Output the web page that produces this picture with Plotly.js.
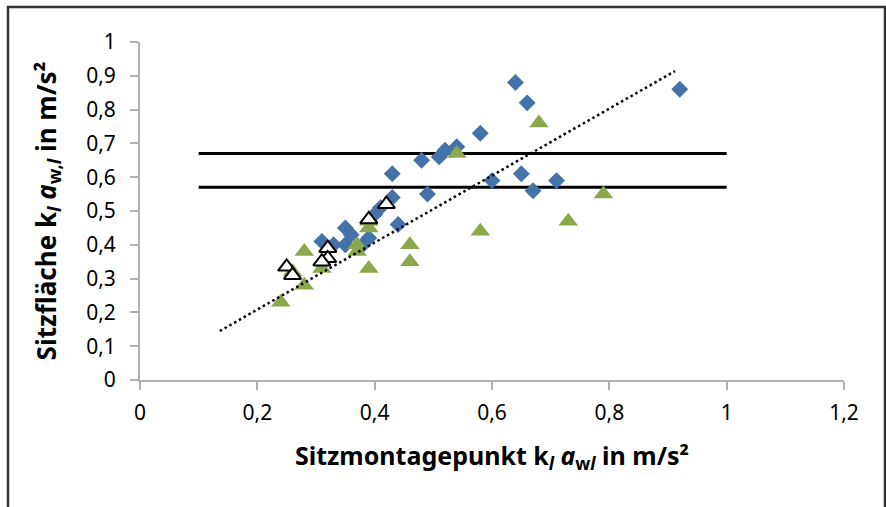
<!DOCTYPE html>
<html>
<head>
<meta charset="utf-8">
<script src="https://cdn.plot.ly/plotly-3.0.1.min.js"></script>
<style>html,body{margin:0;padding:0;background:#fff;}#chart{width:886px;height:507px;}</style>
</head>
<body>
<div id="chart"></div>
<script>
// Blue diamonds
const blueX = [0.64, 0.66, 0.92, 0.58, 0.54, 0.52, 0.51, 0.48, 0.49, 0.60, 0.65, 0.67, 0.71, 0.44, 0.43, 0.43, 0.41, 0.40, 0.35, 0.36, 0.31, 0.33, 0.35, 0.38, 0.39];
const blueY = [0.88, 0.82, 0.86, 0.73, 0.69, 0.68, 0.66, 0.65, 0.55, 0.59, 0.61, 0.56, 0.59, 0.46, 0.61, 0.54, 0.51, 0.49, 0.45, 0.43, 0.41, 0.40, 0.40, 0.40, 0.42];
// Green triangles
const greenX = [0.68, 0.54, 0.79, 0.73, 0.58, 0.46, 0.46, 0.28, 0.37, 0.37, 0.39, 0.39, 0.28, 0.24, 0.31, 0.26, 0.39];
const greenY = [0.76, 0.67, 0.55, 0.47, 0.44, 0.40, 0.35, 0.38, 0.40, 0.38, 0.45, 0.33, 0.28, 0.23, 0.33, 0.32, 0.47];
// Open triangles
const openX = [0.42, 0.39, 0.32, 0.32, 0.31, 0.25, 0.26];
const openY = [0.52, 0.475, 0.39, 0.36, 0.35, 0.335, 0.31];
// Trend line
const trendX = [0.136, 0.912];
const trendY = [0.145, 0.914];
// Limit lines
const limitX = [0.1, 1];
const limitUpper = [0.67, 0.67];
const limitLower = [0.57, 0.57];
// Ticks
const xTicks = [0, 0.2, 0.4, 0.6, 0.8, 1, 1.2];
const xTickText = ['0', '0,2', '0,4', '0,6', '0,8', '1', '1,2'];
const yTicks = [0, 0.1, 0.2, 0.3, 0.4, 0.5, 0.6, 0.7, 0.8, 0.9, 1];
const yTickText = ['0', '0,1', '0,2', '0,3', '0,4', '0,5', '0,6', '0,7', '0,8', '0,9', '1'];

const FONT = 'Noto Sans, Open Sans, sans-serif';

const traces = [
  {x: limitX, y: limitUpper, type: 'scatter', mode: 'lines', line: {color: '#000', width: 3}, hoverinfo: 'skip'},
  {x: limitX, y: limitLower, type: 'scatter', mode: 'lines', line: {color: '#000', width: 3}, hoverinfo: 'skip'},
  {x: blueX, y: blueY, type: 'scatter', mode: 'markers', marker: {symbol: 'diamond', size: 13, color: '#4672aa'}},
  {x: greenX, y: greenY, type: 'scatter', mode: 'markers', marker: {symbol: 'triangle-up', size: 17, color: '#8ca84c'}},
  {x: openX, y: openY, type: 'scatter', mode: 'markers', marker: {symbol: 'triangle-up', size: 15, color: '#fff', line: {color: '#000', width: 2}}},
  {x: trendX, y: trendY, type: 'scatter', mode: 'lines', line: {color: '#000', width: 2.5, dash: '2.5px,3px'}, hoverinfo: 'skip'}
];

const layout = {
  width: 886, height: 507,
  margin: {l: 140, r: 42, t: 42, b: 127},
  showlegend: false,
  paper_bgcolor: '#fff', plot_bgcolor: '#fff',
  font: {family: FONT, color: '#000'},
  xaxis: {
    range: [0, 1.2], tickvals: xTicks, ticktext: xTickText,
    showgrid: false, zeroline: false, showline: true, linecolor: '#b0b0b0', linewidth: 2,
    ticks: 'outside', ticklen: 8, tickwidth: 2, tickcolor: '#b0b0b0',
    ticklabelstandoff: 5,
    tickfont: {size: 21, family: FONT, color: '#000'},
    title: {text: 'Sitzmontagepunkt k<sub><i>l</i></sub> <i>a</i><sub>w<i>l</i></sub> in m/s²', font: {size: 25, family: FONT, color: '#000', weight: 'bold'}, standoff: 22},
    automargin: false, fixedrange: true
  },
  yaxis: {
    range: [0, 1], tickvals: yTicks, ticktext: yTickText,
    showgrid: false, zeroline: false, showline: true, linecolor: '#b0b0b0', linewidth: 2,
    ticks: 'outside', ticklen: 8, tickwidth: 2, tickcolor: '#b0b0b0',
    ticklabelstandoff: 10,
    tickfont: {size: 21, family: FONT, color: '#000'},
    title: {text: 'Sitzfläche k<sub><i>l</i></sub> <i>a</i><sub>w,<i>l</i></sub> in m/s²', font: {size: 26, family: FONT, color: '#000', weight: 'bold'}, standoff: 22},
    automargin: false, fixedrange: true
  },
  shapes: [
    {type: 'rect', xref: 'paper', yref: 'paper', x0: -0.1875, x1: 1.0582, y0: -0.4, y1: 1.1036, line: {color: '#333', width: 2.5}, fillcolor: 'rgba(0,0,0,0)', layer: 'below'}
  ]
};

Plotly.newPlot('chart', traces, layout, {staticPlot: true, displayModeBar: false});
</script>
</body>
</html>
